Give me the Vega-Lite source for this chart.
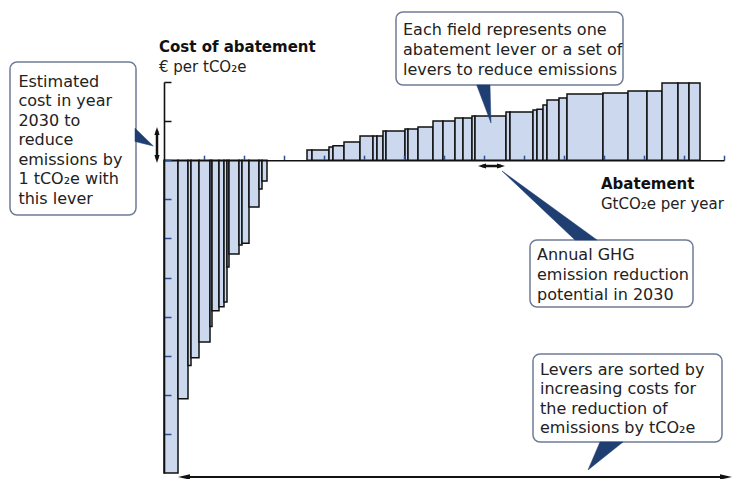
{
  "$schema": "https://vega.github.io/schema/vega-lite/v6.json",
  "width": 560,
  "height": 391,
  "autosize": {"type": "none"},
  "padding": {"left": 164, "top": 82, "right": 12, "bottom": 6},
  "background": "white",
  "config": {"view": {"stroke": null}, "font": "DejaVu Sans"},
  "datasets": {
    "levers": [
      {"start": 0, "end": 0.35, "cost": -160},
      {"start": 0.35, "end": 0.6, "cost": -122},
      {"start": 0.6, "end": 0.675, "cost": -105},
      {"start": 0.675, "end": 0.875, "cost": -101},
      {"start": 0.875, "end": 1.15, "cost": -93},
      {"start": 1.15, "end": 1.2, "cost": -85},
      {"start": 1.2, "end": 1.375, "cost": -77},
      {"start": 1.375, "end": 1.5, "cost": -75},
      {"start": 1.5, "end": 1.575, "cost": -72.5},
      {"start": 1.575, "end": 1.625, "cost": -54.6},
      {"start": 1.625, "end": 1.875, "cost": -48},
      {"start": 1.875, "end": 1.95, "cost": -43.4},
      {"start": 1.95, "end": 2.125, "cost": -42.5},
      {"start": 2.125, "end": 2.375, "cost": -24},
      {"start": 2.375, "end": 2.45, "cost": -14.7},
      {"start": 2.45, "end": 2.575, "cost": -10.6},
      {"start": 3.575, "end": 3.7, "cost": 5.2},
      {"start": 3.7, "end": 4.125, "cost": 5.2},
      {"start": 4.125, "end": 4.225, "cost": 6.75},
      {"start": 4.225, "end": 4.5, "cost": 7.4},
      {"start": 4.5, "end": 4.9, "cost": 9.3},
      {"start": 4.9, "end": 5.225, "cost": 12.4},
      {"start": 5.225, "end": 5.325, "cost": 12.4},
      {"start": 5.325, "end": 5.475, "cost": 12.4},
      {"start": 5.475, "end": 5.55, "cost": 14.9},
      {"start": 5.55, "end": 6.025, "cost": 14.9},
      {"start": 6.025, "end": 6.1, "cost": 16},
      {"start": 6.1, "end": 6.35, "cost": 16},
      {"start": 6.35, "end": 6.725, "cost": 17},
      {"start": 6.725, "end": 6.975, "cost": 20.1},
      {"start": 6.975, "end": 7.275, "cost": 20.1},
      {"start": 7.275, "end": 7.475, "cost": 21.6},
      {"start": 7.475, "end": 7.7, "cost": 21.6},
      {"start": 7.7, "end": 7.775, "cost": 22.6},
      {"start": 7.775, "end": 8.55, "cost": 22.6},
      {"start": 8.55, "end": 8.65, "cost": 24.7},
      {"start": 8.65, "end": 9.225, "cost": 24.7},
      {"start": 9.225, "end": 9.325, "cost": 25.7},
      {"start": 9.325, "end": 9.475, "cost": 26},
      {"start": 9.475, "end": 9.575, "cost": 28.2},
      {"start": 9.575, "end": 9.875, "cost": 30.8},
      {"start": 9.875, "end": 10.075, "cost": 31.8},
      {"start": 10.075, "end": 10.975, "cost": 33.9},
      {"start": 10.975, "end": 11.6, "cost": 34.4},
      {"start": 11.6, "end": 12.075, "cost": 35.4},
      {"start": 12.075, "end": 12.45, "cost": 35.4},
      {"start": 12.45, "end": 12.85, "cost": 39.5},
      {"start": 12.85, "end": 13.125, "cost": 39.5},
      {"start": 13.125, "end": 13.4, "cost": 39.5}
    ],
    "pointers": [
      {"id": "p1", "px": -0.725, "py": 16.4},
      {"id": "p1", "px": -0.725, "py": 9.55},
      {"id": "p1", "px": -0.267, "py": 7.26},
      {"id": "p2", "px": 7.8175, "py": 38.47},
      {"id": "p2", "px": 8.15, "py": 38.47},
      {"id": "p2", "px": 8.175, "py": 19.03},
      {"id": "p3", "px": 8.45, "py": -5.52},
      {"id": "p3", "px": 10.275, "py": -40.8},
      {"id": "p3", "px": 10.825, "py": -40.8},
      {"id": "p4", "px": 10.9, "py": -144.14},
      {"id": "p4", "px": 11.475, "py": -144.14},
      {"id": "p4", "px": 10.6, "py": -158.46}
    ]
  },
  "layer": [
    {
      "data": {"name": "levers"},
      "mark": {"type": "rect", "fill": "#cbd8ee", "stroke": "#111111", "strokeWidth": 1.5},
      "encoding": {
        "x": {
          "field": "start", "type": "quantitative",
          "scale": {"domain": [0, 14], "nice": false, "zero": false},
          "axis": {
            "orient": "top", "offset": -78.2, "zindex": 1,
            "values": [1,2,3,4,5,6,7,8,9,10,11,12,13,14],
            "labels": false, "title": null, "grid": false,
            "domainColor": "#111111", "domainWidth": 1.6,
            "tickColor": "#2d4f8f", "tickSize": 5, "tickWidth": 1.5
          }
        },
        "x2": {"field": "end"},
        "y": {
          "field": "cost", "type": "quantitative",
          "scale": {"domain": [-160, 40], "nice": false, "zero": false},
          "axis": {
            "orient": "left", "zindex": 1,
            "values": [40,20,0,-20,-40,-60,-80,-100,-120,-140],
            "labels": false, "title": null, "grid": false,
            "domainColor": "#111111", "domainWidth": 1.6,
            "tickColor": {"condition": {"test": "datum.value > 0", "value": "#111111"}, "value": "#2d4f8f"},
            "tickSize": -7, "tickWidth": 1.5
          }
        },
        "y2": {"datum": 0}
      }
    },
    {
      "data": {"values": [{}]},
      "mark": {"type": "rect", "fill": "white", "stroke": "#6f7c96", "strokeWidth": 1.5, "cornerRadius": 7},
      "encoding": {
        "x": {"datum": -3.85, "type": "quantitative"},
        "x2": {"datum": -0.7},
        "y": {"datum": 50.23, "type": "quantitative"},
        "y2": {"datum": -28.03}
      }
    },
    {
      "data": {"values": [{}]},
      "mark": {"type": "rect", "fill": "white", "stroke": "#6f7c96", "strokeWidth": 1.5, "cornerRadius": 7},
      "encoding": {
        "x": {"datum": 5.8, "type": "quantitative"},
        "x2": {"datum": 11.475},
        "y": {"datum": 75.8, "type": "quantitative"},
        "y2": {"datum": 38.47}
      }
    },
    {
      "data": {"values": [{}]},
      "mark": {"type": "rect", "fill": "white", "stroke": "#6f7c96", "strokeWidth": 1.5, "cornerRadius": 7},
      "encoding": {
        "x": {"datum": 9.15, "type": "quantitative"},
        "x2": {"datum": 13.225},
        "y": {"datum": -40.82, "type": "quantitative"},
        "y2": {"datum": -75.09}
      }
    },
    {
      "data": {"values": [{}]},
      "mark": {"type": "rect", "fill": "white", "stroke": "#6f7c96", "strokeWidth": 1.5, "cornerRadius": 7},
      "encoding": {
        "x": {"datum": 9.225, "type": "quantitative"},
        "x2": {"datum": 13.95},
        "y": {"datum": -99.13, "type": "quantitative"},
        "y2": {"datum": -144.14}
      }
    },
    {
      "data": {"name": "pointers"},
      "mark": {"type": "line", "interpolate": "linear-closed", "fill": "#1f3f73", "stroke": "#1f3f73", "strokeWidth": 0.5},
      "encoding": {
        "x": {"field": "px", "type": "quantitative"},
        "y": {"field": "py", "type": "quantitative"},
        "detail": {"field": "id"}
      }
    },
    {
      "data": {"values": [{}]},
      "mark": {"type": "text", "text": ["Estimated", "cost in year", "2030 to", "reduce", "emissions by", "1 tCO₂e with", "this lever"], "align": "left", "baseline": "alphabetic", "font": "DejaVu Sans", "fontSize": 16, "lineHeight": 19.5, "color": "#222222"},
      "encoding": {"x": {"datum": -3.64, "type": "quantitative"}, "y": {"datum": 37.6, "type": "quantitative"}}
    },
    {
      "data": {"values": [{}]},
      "mark": {"type": "text", "text": ["Each field represents one", "abatement lever or a set of", "levers to reduce emissions"], "align": "left", "baseline": "alphabetic", "font": "DejaVu Sans", "fontSize": 16, "lineHeight": 20, "color": "#222222"},
      "encoding": {"x": {"datum": 5.975, "type": "quantitative"}, "y": {"datum": 64.04, "type": "quantitative"}}
    },
    {
      "data": {"values": [{}]},
      "mark": {"type": "text", "text": ["Annual GHG", "emission reduction", "potential in 2030"], "align": "left", "baseline": "alphabetic", "font": "DejaVu Sans", "fontSize": 16, "lineHeight": 20, "color": "#222222"},
      "encoding": {"x": {"datum": 9.325, "type": "quantitative"}, "y": {"datum": -51.05, "type": "quantitative"}}
    },
    {
      "data": {"values": [{}]},
      "mark": {"type": "text", "text": ["Levers are sorted by", "increasing costs for", "the reduction of", "emissions by tCO₂e"], "align": "left", "baseline": "alphabetic", "font": "DejaVu Sans", "fontSize": 16, "lineHeight": 19.5, "color": "#222222"},
      "encoding": {"x": {"datum": 9.4, "type": "quantitative"}, "y": {"datum": -109.87, "type": "quantitative"}}
    },
    {
      "data": {"values": [{}]},
      "mark": {"type": "text", "text": "Cost of abatement", "align": "left", "baseline": "alphabetic", "font": "DejaVu Sans", "fontSize": 15, "fontWeight": "bold", "color": "#111111"},
      "encoding": {"x": {"datum": -0.125, "type": "quantitative"}, "y": {"datum": 55.5, "type": "quantitative"}}
    },
    {
      "data": {"values": [{}]},
      "mark": {"type": "text", "text": "€ per tCO₂e", "align": "left", "baseline": "alphabetic", "font": "DejaVu Sans", "fontSize": 15, "color": "#222222"},
      "encoding": {"x": {"datum": -0.125, "type": "quantitative"}, "y": {"datum": 45.1, "type": "quantitative"}}
    },
    {
      "data": {"values": [{}]},
      "mark": {"type": "text", "text": "Abatement", "align": "left", "baseline": "alphabetic", "font": "DejaVu Sans", "fontSize": 15, "fontWeight": "bold", "color": "#111111"},
      "encoding": {"x": {"datum": 10.925, "type": "quantitative"}, "y": {"datum": -14.88, "type": "quantitative"}}
    },
    {
      "data": {"values": [{}]},
      "mark": {"type": "text", "text": "GtCO₂e per year", "align": "left", "baseline": "alphabetic", "font": "DejaVu Sans", "fontSize": 15, "color": "#222222"},
      "encoding": {"x": {"datum": 10.925, "type": "quantitative"}, "y": {"datum": -24.96, "type": "quantitative"}}
    },
    {
      "data": {"values": [{}]},
      "mark": {"type": "rule", "color": "#111111", "strokeWidth": 2.5},
      "encoding": {"x": {"datum": -0.175, "type": "quantitative"}, "y": {"datum": 14.93, "type": "quantitative"}, "y2": {"datum": 0.61}}
    },
    {
      "data": {"values": [{}]},
      "mark": {"type": "point", "filled": true, "color": "#111111", "opacity": 1, "size": 64, "shape": "M0,-1L-0.65,1L0.65,1Z"},
      "encoding": {"x": {"datum": -0.175, "type": "quantitative"}, "y": {"datum": 14.93, "type": "quantitative"}}
    },
    {
      "data": {"values": [{}]},
      "mark": {"type": "point", "filled": true, "color": "#111111", "opacity": 1, "size": 64, "shape": "M0,1L-0.65,-1L0.65,-1Z"},
      "encoding": {"x": {"datum": -0.175, "type": "quantitative"}, "y": {"datum": 0.61, "type": "quantitative"}}
    },
    {
      "data": {"values": [{}]},
      "mark": {"type": "rule", "color": "#111111", "strokeWidth": 2.5},
      "encoding": {"x": {"datum": 7.95, "type": "quantitative"}, "x2": {"datum": 8.425}, "y": {"datum": -2.97, "type": "quantitative"}}
    },
    {
      "data": {"values": [{}]},
      "mark": {"type": "point", "filled": true, "color": "#111111", "opacity": 1, "size": 64, "shape": "M-1,0L1,-0.65L1,0.65Z"},
      "encoding": {"x": {"datum": 7.95, "type": "quantitative"}, "y": {"datum": -2.97, "type": "quantitative"}}
    },
    {
      "data": {"values": [{}]},
      "mark": {"type": "point", "filled": true, "color": "#111111", "opacity": 1, "size": 64, "shape": "M1,0L-1,-0.65L-1,0.65Z"},
      "encoding": {"x": {"datum": 8.425, "type": "quantitative"}, "y": {"datum": -2.97, "type": "quantitative"}}
    },
    {
      "data": {"values": [{}]},
      "mark": {"type": "rule", "color": "#111111", "strokeWidth": 2},
      "encoding": {"x": {"datum": 0.5, "type": "quantitative"}, "x2": {"datum": 14.05}, "y": {"datum": -162.04, "type": "quantitative"}}
    },
    {
      "data": {"values": [{}]},
      "mark": {"type": "point", "filled": true, "color": "#111111", "opacity": 1, "size": 144, "shape": "M-1,0L1,-0.45L1,0.45Z"},
      "encoding": {"x": {"datum": 0.5, "type": "quantitative"}, "y": {"datum": -162.04, "type": "quantitative"}}
    },
    {
      "data": {"values": [{}]},
      "mark": {"type": "point", "filled": true, "color": "#111111", "opacity": 1, "size": 144, "shape": "M1,0L-1,-0.45L-1,0.45Z"},
      "encoding": {"x": {"datum": 14.05, "type": "quantitative"}, "y": {"datum": -162.04, "type": "quantitative"}}
    }
  ]
}
